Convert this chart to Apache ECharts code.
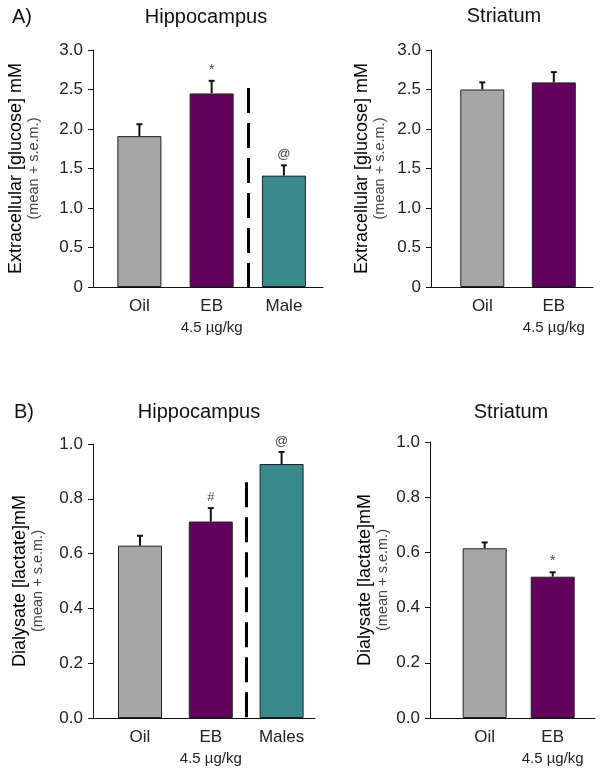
<!DOCTYPE html>
<html>
<head>
<meta charset="utf-8">
<script src="https://cdn.jsdelivr.net/npm/echarts@6/dist/echarts.min.js"></script>
<style>
html,body{margin:0;padding:0;background:#fff;}
#c{width:604px;height:772px;}
</style>
</head>
<body>
<div id="c"></div>
<script>
// ---- data ----
const catsHippo = ['Oil', 'EB', 'Male'];
const catsHippoB = ['Oil', 'EB', 'Males'];
const catsStri = ['Oil', 'EB'];
const groupSub = ['', '4.5 µg/kg', ''];

const glucHippo = [1.91, 2.45, 1.41];
const glucHippoSem = [0.15, 0.16, 0.13];
const glucHippoSig = ['', '*', '@'];

const glucStri = [2.50, 2.59];
const glucStriSem = [0.09, 0.13];
const glucStriSig = ['', ''];

const lactHippo = [0.629, 0.717, 0.927];
const lactHippoSem = [0.036, 0.049, 0.044];
const lactHippoSig = ['', '#', '@'];

const lactStri = [0.615, 0.512];
const lactStriSem = [0.021, 0.016];
const lactStriSig = ['', '*'];

const glucTicks = [0, 0.5, 1.0, 1.5, 2.0, 2.5, 3.0];
const lactTicks = [0.0, 0.2, 0.4, 0.6, 0.8, 1.0];

const dividerAfter = 1;          // dashed separator between EB and male group
const dividerTopGluc = 2.52;
const dividerTopLact = 0.86;

const barColors = ['#a6a6a6', '#62005e', '#3a8a8c'];

// ---- styling ----
const FONT = '"Liberation Sans", Arial, sans-serif';
const chart = echarts.init(document.getElementById('c'), null, {renderer: 'canvas'});

const panels = [
  {grid: {left: 93, top: 50, width: 230, height: 237}, xr: [-0.642, 2.541], cats: catsHippo, vals: glucHippo, sem: glucHippoSem, sig: glucHippoSig,
   ticks: glucTicks, fmt: v => v === 0 ? '0' : v.toFixed(1), yname: 'Extracellular [glucose] mM', gap: 51, divTop: dividerTopGluc},
  {grid: {left: 431, top: 50, width: 162, height: 237}, xr: [-0.717, 1.548], cats: catsStri, vals: glucStri, sem: glucStriSem, sig: glucStriSig,
   ticks: glucTicks, fmt: v => v === 0 ? '0' : v.toFixed(1), yname: 'Extracellular [glucose] mM', gap: 43, divTop: null},
  {grid: {left: 93, top: 444, width: 222, height: 274}, xr: [-0.664, 2.472], cats: catsHippoB, vals: lactHippo, sem: lactHippoSem, sig: lactHippoSig,
   ticks: lactTicks, fmt: v => v.toFixed(1), yname: 'Dialysate [lactate]mM', gap: 47, divTop: dividerTopLact},
  {grid: {left: 430, top: 442, width: 165, height: 276}, xr: [-0.804, 1.622], cats: catsStri, vals: lactStri, sem: lactStriSem, sig: lactStriSig,
   ticks: lactTicks, fmt: v => v.toFixed(1), yname: 'Dialysate [lactate]mM', gap: 39, divTop: null}
];

const grids = [], xAxes = [], yAxes = [], series = [];
panels.forEach((p, i) => {
  grids.push(Object.assign({containLabel: false, outerBoundsMode: 'none'}, p.grid));
  xAxes.push({
    type: 'value', gridIndex: i, min: p.xr[0], max: p.xr[1],
    splitLine: {show: false},
    axisLine: {show: true, onZero: false, lineStyle: {color: '#111', width: 1}},
    axisTick: {show: false},
    axisLabel: {
      show: true, margin: 9, customValues: p.cats.map((c, k) => k),
      formatter: v => {
        const k = Math.round(v);
        const sub = groupSub[k];
        return '{a|' + p.cats[k] + '}' + (sub ? '\n{b|' + sub + '}' : '');
      },
      rich: {
        a: {fontSize: 17, fontFamily: FONT, color: '#222', lineHeight: 20},
        b: {fontSize: 15, fontFamily: FONT, color: '#222', lineHeight: 23}
      }
    }
  });
  const step = p.ticks[1] - p.ticks[0];
  yAxes.push({
    type: 'value', gridIndex: i, min: p.ticks[0], max: p.ticks[p.ticks.length - 1], interval: step,
    splitLine: {show: false},
    axisLine: {show: true, onZero: false, lineStyle: {color: '#111', width: 1}},
    axisTick: {show: true, length: 5, inside: false, lineStyle: {color: '#111', width: 1}},
    axisLabel: {show: true, margin: 10, fontSize: 17, fontFamily: FONT, color: '#222', formatter: p.fmt},
    name: '{a|' + p.yname + '}\n{b|(mean + s.e.m.)}',
    nameLocation: 'middle', nameRotate: 90, nameGap: p.gap,
    nameTextStyle: {
      rich: {
        a: {fontSize: 18, fontFamily: FONT, color: '#000', lineHeight: 20, align: 'center'},
        b: {fontSize: 14.5, fontFamily: FONT, color: '#444', lineHeight: 16, align: 'center'}
      }
    }
  });
  const barSeries = {
    type: 'bar', xAxisIndex: i, yAxisIndex: i, barWidth: 44, silent: true,
    data: p.vals.map((v, k) => ({value: [k, v], itemStyle: {color: barColors[k]}})),
    itemStyle: {borderColor: '#222', borderWidth: 1},
    animation: false
  };
  if (p.divTop !== null) {
    barSeries.markLine = {
      silent: true, symbol: 'none', animation: false,
      label: {show: false},
      lineStyle: {color: '#000', width: 3, type: [25, 10]},
      data: [[{coord: [dividerAfter + 0.5, p.divTop]}, {coord: [dividerAfter + 0.5, 0]}]]
    };
  }
  series.push(barSeries);
  series.push({
    type: 'custom', xAxisIndex: i, yAxisIndex: i, silent: true, animation: false,
    data: p.vals.map((v, k) => [k, v, p.sem[k]]),
    encode: {x: 0, y: 1},
    renderItem: (params, api) => {
      const x = api.value(0), y = api.value(1), e = api.value(2);
      const p0 = api.coord([x, y]);
      const p1 = api.coord([x, y + e]);
      const children = [
        {type: 'line', shape: {x1: p0[0], y1: p0[1], x2: p1[0], y2: p1[1]}, style: {stroke: '#111', lineWidth: 2}},
        {type: 'line', shape: {x1: p1[0] - 3, y1: p1[1], x2: p1[0] + 3, y2: p1[1]}, style: {stroke: '#111', lineWidth: 2}}
      ];
      const s = p.sig[params.dataIndex];
      if (s) {
        children.push({type: 'text', style: {text: s, x: p1[0], y: p1[1] - 4, align: 'center', verticalAlign: 'bottom',
          font: (s === '*' ? '14px ' : '13px ') + FONT, fill: '#444'}});
      }
      return {type: 'group', children};
    }
  });
});

const titleStyle = {fontSize: 20, fontWeight: 'normal', fontFamily: FONT, color: '#111'};
const option = {
  backgroundColor: '#fff',
  animation: false,
  title: [
    {text: 'A)', left: 12, top: 7, padding: 0, textStyle: titleStyle},
    {text: 'Hippocampus', left: 206, top: 7, padding: 0, textAlign: 'center', textStyle: titleStyle},
    {text: 'Striatum', left: 504, top: 6, padding: 0, textAlign: 'center', textStyle: titleStyle},
    {text: 'B)', left: 14, top: 402, padding: 0, textStyle: titleStyle},
    {text: 'Hippocampus', left: 199, top: 402, padding: 0, textAlign: 'center', textStyle: titleStyle},
    {text: 'Striatum', left: 511, top: 402, padding: 0, textAlign: 'center', textStyle: titleStyle}
  ],
  grid: grids, xAxis: xAxes, yAxis: yAxes, series
};
chart.setOption(option);
</script>
</body>
</html>
